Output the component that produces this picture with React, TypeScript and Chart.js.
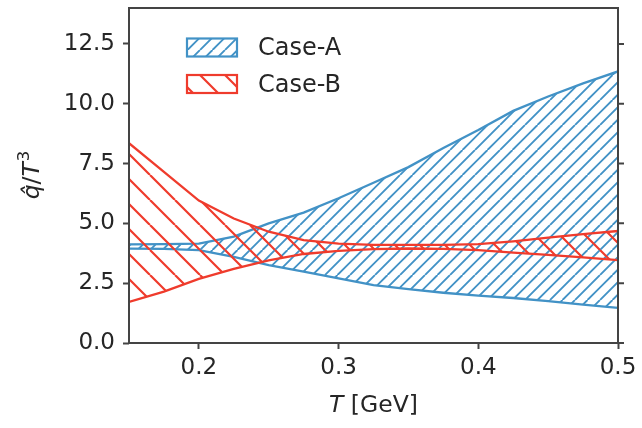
import { useEffect, useRef } from "react"
import { Chart, registerables } from "chart.js"

Chart.register(...registerables)

// temperature grid (GeV) and band edges
const temps = [0.15, 0.175, 0.2, 0.225, 0.25, 0.275, 0.3, 0.325, 0.35, 0.375, 0.4, 0.425, 0.45, 0.475, 0.5]
const caseAHigh = [4.12, 4.13, 4.15, 4.45, 5.0, 5.45, 6.05, 6.7, 7.35, 8.15, 8.9, 9.7, 10.3, 10.85, 11.35]
const caseALow = [3.94, 3.93, 3.88, 3.6, 3.25, 2.98, 2.7, 2.42, 2.25, 2.1, 1.98, 1.88, 1.75, 1.6, 1.47]
const caseBHigh = [8.35, 7.15, 5.95, 5.2, 4.65, 4.3, 4.15, 4.1, 4.1, 4.1, 4.13, 4.25, 4.4, 4.55, 4.68]
const caseBLow = [1.72, 2.15, 2.68, 3.1, 3.45, 3.72, 3.85, 3.92, 3.95, 3.93, 3.88, 3.78, 3.68, 3.58, 3.46]
const xTicks = [0.2, 0.3, 0.4, 0.5]
const yTicks = [0, 2.5, 5, 7.5, 10, 12.5]
const seriesNames = ["Case-A", "Case-B"]

const BLUE = "#4292c6"
const RED = "#ef3b2c"
const SPINE = "#444444"
const TEXT = "#262626"
const FONT = "DejaVu Sans"

// diagonal hatch tile, dir 1 = "/" and -1 = "\"
function makeHatch(color: string, spacing: number, dir: number, width: number) {
  const size = 25
  const c = document.createElement("canvas")
  c.width = size
  c.height = size
  const g = c.getContext("2d")!
  g.strokeStyle = color
  g.lineWidth = width
  g.beginPath()
  for (let o = -size; o <= 2 * size; o += spacing) {
    if (dir === 1) {
      g.moveTo(o - size, size)
      g.lineTo(o, 0)
    } else {
      g.moveTo(o - size, 0)
      g.lineTo(o, size)
    }
  }
  g.stroke()
  return g.createPattern(c, "repeat")!
}

const pts = (ys: number[]) => temps.map((x, i) => ({ x, y: ys[i] }))

export default function App() {
  const chartRef = useRef<HTMLCanvasElement>(null)
  const chartInstance = useRef<Chart | null>(null)

  useEffect(() => {
    if (!chartRef.current) return
    if (chartInstance.current) chartInstance.current.destroy()

    const hatchA = makeHatch(BLUE, 12.5, 1, 1.9)
    const hatchB = makeHatch(RED, 25, -1, 2.2)

    const framePlugin = {
      id: "frame",
      afterDatasetsDraw(chart: any) {
        const { ctx, chartArea: a, scales } = chart
        ctx.save()
        // spines all round + right-hand ticks
        ctx.strokeStyle = SPINE
        ctx.lineWidth = 2
        ctx.strokeRect(a.left, a.top, a.right - a.left, a.bottom - a.top)
        ctx.beginPath()
        for (const v of yTicks) {
          const y = scales.y.getPixelForValue(v)
          ctx.moveTo(a.right, y)
          ctx.lineTo(a.right + 6, y)
        }
        ctx.stroke()

        // legend inside the axes
        const fills = [hatchA, hatchB]
        const colors = [BLUE, RED]
        seriesNames.forEach((name, i) => {
          const bx = 187
          const by = 38.5 + i * 36.5
          ctx.fillStyle = fills[i]
          ctx.fillRect(bx, by, 50, 18)
          ctx.strokeStyle = colors[i]
          ctx.lineWidth = 2.2
          ctx.strokeRect(bx, by, 50, 18)
          ctx.fillStyle = TEXT
          ctx.font = `24px "${FONT}"`
          ctx.textAlign = "left"
          ctx.textBaseline = "middle"
          ctx.fillText(name, 258, by + 10.5)
        })

        // x title: italic T + [GeV]
        ctx.textBaseline = "alphabetic"
        ctx.font = `italic 23.5px "${FONT}"`
        const wT = ctx.measureText("T ").width
        ctx.font = `23.5px "${FONT}"`
        const wG = ctx.measureText("[GeV]").width
        const x0 = (a.left + a.right) / 2 - (wT + wG) / 2
        ctx.font = `italic 23.5px "${FONT}"`
        ctx.fillText("T ", x0, 411.5)
        ctx.font = `23.5px "${FONT}"`
        ctx.fillText("[GeV]", x0 + wT, 411.5)

        // y title: q-hat / T^3, rotated
        ctx.translate(39, (a.top + a.bottom) / 2)
        ctx.rotate(-Math.PI / 2)
        const parts = [
          { t: "q\u0302", f: `italic 23.5px "${FONT}"`, dy: 0 },
          { t: "/", f: `23.5px "${FONT}"`, dy: 0 },
          { t: "T", f: `italic 23.5px "${FONT}"`, dy: 0 },
          { t: "3", f: `16.5px "${FONT}"`, dy: -10.5 },
        ]
        let total = 0
        const widths = parts.map((p) => {
          ctx.font = p.f
          const w = ctx.measureText(p.t).width
          total += w
          return w
        })
        let cx = -total / 2
        parts.forEach((p, i) => {
          ctx.font = p.f
          ctx.fillText(p.t, cx, p.dy)
          cx += widths[i] + (i === 2 ? 1 : 0)
        })
        ctx.restore()
      },
    }

    Chart.defaults.font.family = FONT
    Chart.defaults.color = TEXT

    chartInstance.current = new Chart(chartRef.current, {
      type: "line",
      data: {
        datasets: [
          { label: seriesNames[0], data: pts(caseAHigh), borderColor: BLUE, backgroundColor: hatchA, fill: "+1", order: 1 },
          { label: seriesNames[0], data: pts(caseALow), borderColor: BLUE, fill: false, order: 1 },
          { label: seriesNames[1], data: pts(caseBHigh), borderColor: RED, backgroundColor: hatchB, fill: "+1", order: 0 },
          { label: seriesNames[1], data: pts(caseBLow), borderColor: RED, fill: false, order: 0 },
        ],
      },
      options: {
        responsive: true,
        maintainAspectRatio: false,
        animation: false,
        layout: { padding: { top: 8, right: 24, left: 0, bottom: 0 } },
        elements: {
          line: { borderWidth: 2.3, tension: 0 },
          point: { radius: 0, hoverRadius: 0 },
        },
        plugins: {
          legend: { display: false },
          tooltip: { enabled: false },
          filler: { propagate: false },
        },
        scales: {
          x: {
            type: "linear",
            min: 0.15,
            max: 0.5,
            border: { display: false },
            grid: { drawOnChartArea: false, drawTicks: true, tickLength: 6, tickWidth: 2, tickColor: SPINE },
            ticks: {
              padding: 5,
              maxRotation: 0,
              autoSkip: false,
              font: { size: 23 },
              color: TEXT,
              callback: (v: any) => Number(v).toFixed(1),
            },
            afterBuildTicks: (scale: any) => {
              scale.ticks = xTicks.map((value) => ({ value }))
            },
            afterFit: (scale: any) => {
              scale.height = 85
              scale.paddingLeft = 0
              scale.paddingRight = 0
            },
          },
          y: {
            type: "linear",
            min: 0,
            max: 14,
            border: { display: false },
            grid: { drawOnChartArea: false, drawTicks: true, tickLength: 6, tickWidth: 2, tickColor: SPINE },
            ticks: {
              padding: 8,
              font: { size: 23 },
              color: TEXT,
              callback: (v: any) => Number(v).toFixed(1),
            },
            afterBuildTicks: (scale: any) => {
              scale.ticks = yTicks.map((value) => ({ value }))
            },
            afterFit: (scale: any) => {
              scale.width = 129
              scale.paddingTop = 0
              scale.paddingBottom = 0
            },
          },
        },
      },
      plugins: [framePlugin],
    })

    return () => {
      if (chartInstance.current) {
        chartInstance.current.destroy()
        chartInstance.current = null
      }
    }
  }, [])

  return (
    <div style={{ position: "fixed", left: 0, top: 0, width: 642, height: 428, background: "#ffffff" }}>
      <canvas ref={chartRef}></canvas>
    </div>
  )
}
